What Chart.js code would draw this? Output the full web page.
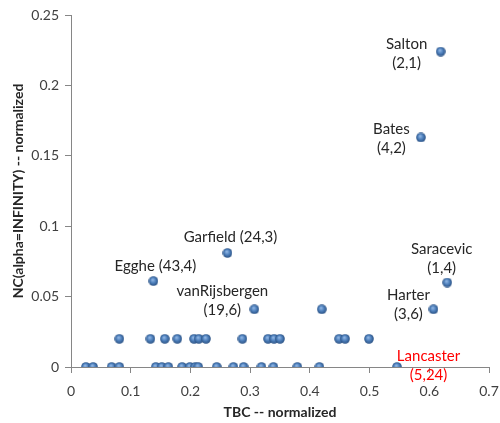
<!DOCTYPE html>
<html>
<head>
<meta charset="utf-8">
<script src="https://cdn.jsdelivr.net/npm/chart.js@4/dist/chart.umd.min.js"></script>
<style>
  html, body { margin: 0; padding: 0; background: #ffffff; }
  #wrap { width: 500px; height: 423px; position: relative; }
</style>
</head>
<body>
<div id="wrap"><canvas id="c" width="500" height="423"></canvas></div>
<script>
// ---- data ----
const tbcValues = [
  0.619, 0.586, 0.262, 0.138, 0.307, 0.630, 0.607, 0.546,
  0.420,
  0.081, 0.133, 0.157, 0.178, 0.206, 0.214, 0.226, 0.287, 0.330, 0.340, 0.350, 0.449, 0.459, 0.499,
  0.025, 0.037, 0.068, 0.081, 0.142, 0.152, 0.163, 0.186, 0.199, 0.208, 0.213, 0.244, 0.272, 0.289, 0.319, 0.339, 0.379, 0.416
];
const ncValues = [
  0.224, 0.163, 0.081, 0.061, 0.041, 0.060, 0.041, 0.000,
  0.041,
  0.02, 0.02, 0.02, 0.02, 0.02, 0.02, 0.02, 0.02, 0.02, 0.02, 0.02, 0.02, 0.02, 0.02,
  0, 0, 0, 0, 0, 0, 0, 0, 0, 0, 0, 0, 0, 0, 0, 0, 0, 0
];
// labelled authors: index into the arrays above, and their text lines
const labelIndex = [0, 1, 2, 3, 4, 5, 6, 7];
const labelLines = [
  ['Salton', '(2,1)'],
  ['Bates', '(4,2)'],
  ['Garfield (24,3)'],
  ['Egghe (43,4)'],
  ['vanRijsbergen', '(19,6)'],
  ['Saracevic', '(1,4)'],
  ['Harter', '(3,6)'],
  ['Lancaster', '(5,24)']
];
const xTicks = [0, 0.1, 0.2, 0.3, 0.4, 0.5, 0.6, 0.7];
const yTicks = [0, 0.05, 0.1, 0.15, 0.2, 0.25];

// ---- label placement (style, not data): pixel offset of text-block centre from the point ----
const labelPlacement = [
  { dx: -34,   dy: 2,     color: '#262626' },
  { dx: -29.5, dy: 1,     color: '#262626' },
  { dx: 3,     dy: -15.5, color: '#262626' },
  { dx: 2,     dy: -15,   color: '#262626' },
  { dx: -32,   dy: -8.5,  color: '#262626' },
  { dx: -5.5,  dy: -24,   color: '#262626' },
  { dx: -25,   dy: -5,    color: '#262626' },
  { dx: 31.5,  dy: -1,    color: '#ff0000' }
];

const FONT = 'Lato, "Open Sans", "Liberation Sans", sans-serif';

// sphere marker
function makeBall() {
  const s = 10;
  const cv = document.createElement('canvas');
  cv.width = s; cv.height = s;
  const g = cv.getContext('2d');
  const grad = g.createRadialGradient(4.2, 3.6, 0.5, 5, 5, 5.2);
  grad.addColorStop(0, '#8db3e2');
  grad.addColorStop(0.45, '#4f81bd');
  grad.addColorStop(1, '#244a7c');
  g.fillStyle = grad;
  g.beginPath();
  g.arc(5, 5, 4.8, 0, Math.PI * 2);
  g.fill();
  return cv;
}
const ball = makeBall();

const points = tbcValues.map((x, i) => ({ x: x, y: ncValues[i] }));

const labelPlugin = {
  id: 'pointLabels',
  afterDatasetsDraw(chart) {
    const ctx = chart.ctx;
    const xs = chart.scales.x, ys = chart.scales.y;
    ctx.save();
    ctx.font = '15px ' + FONT;
    ctx.textAlign = 'center';
    ctx.textBaseline = 'middle';
    labelIndex.forEach((idx, k) => {
      const px = xs.getPixelForValue(tbcValues[idx]);
      const py = ys.getPixelForValue(ncValues[idx]);
      const p = labelPlacement[k];
      const lines = labelLines[k];
      const lh = 19;
      const startY = py + p.dy - (lines.length - 1) * lh / 2;
      ctx.fillStyle = p.color;
      lines.forEach((t, j) => ctx.fillText(t, px + p.dx, startY + j * lh));
    });
    ctx.restore();
  }
};

new Chart(document.getElementById('c'), {
  type: 'scatter',
  data: {
    datasets: [{
      data: points,
      pointStyle: ball,
      pointRadius: 5,
      backgroundColor: '#4f81bd',
      borderColor: '#4f81bd'
    }]
  },
  options: {
    responsive: false,
    animation: false,
    devicePixelRatio: 1,
    layout: { padding: { top: 15, right: 11, left: 0, bottom: 0 } },
    plugins: { legend: { display: false }, tooltip: { enabled: false } },
    scales: {
      x: {
        type: 'linear',
        min: 0, max: 0.7,
        afterBuildTicks: (s) => { s.ticks = xTicks.map(v => ({ value: v })); },
        afterFit: (s) => { s.height = 56; s.paddingLeft = 0; s.paddingRight = 0; },
        grid: { drawOnChartArea: false, drawTicks: true, tickLength: 6, color: '#868686' },
        border: { display: true, color: '#868686' },
        ticks: { color: '#404040', font: { family: FONT, size: 14 }, padding: 10, maxRotation: 0,
                 callback: (v) => String(v) },
        title: { display: true, text: 'TBC -- normalized', color: '#262626',
                 font: { family: FONT, size: 14, weight: 'bold' }, padding: { top: 0, bottom: 2 } }
      },
      y: {
        type: 'linear',
        min: 0, max: 0.25,
        afterBuildTicks: (s) => { s.ticks = yTicks.map(v => ({ value: v })); },
        afterFit: (s) => { s.width = 71; s.paddingTop = 0; s.paddingBottom = 0; },
        grid: { drawOnChartArea: false, drawTicks: true, tickLength: 6, color: '#868686' },
        border: { display: true, color: '#868686' },
        ticks: { color: '#404040', font: { family: FONT, size: 14 }, padding: 6,
                 callback: (v) => String(v) },
        title: { display: true, text: 'NC(alpha=INFINITY) -- normalized', color: '#262626',
                 font: { family: FONT, size: 14, weight: 'bold' }, padding: { top: 10, bottom: 0 } }
      }
    }
  },
  plugins: [labelPlugin]
});
</script>
</body>
</html>
